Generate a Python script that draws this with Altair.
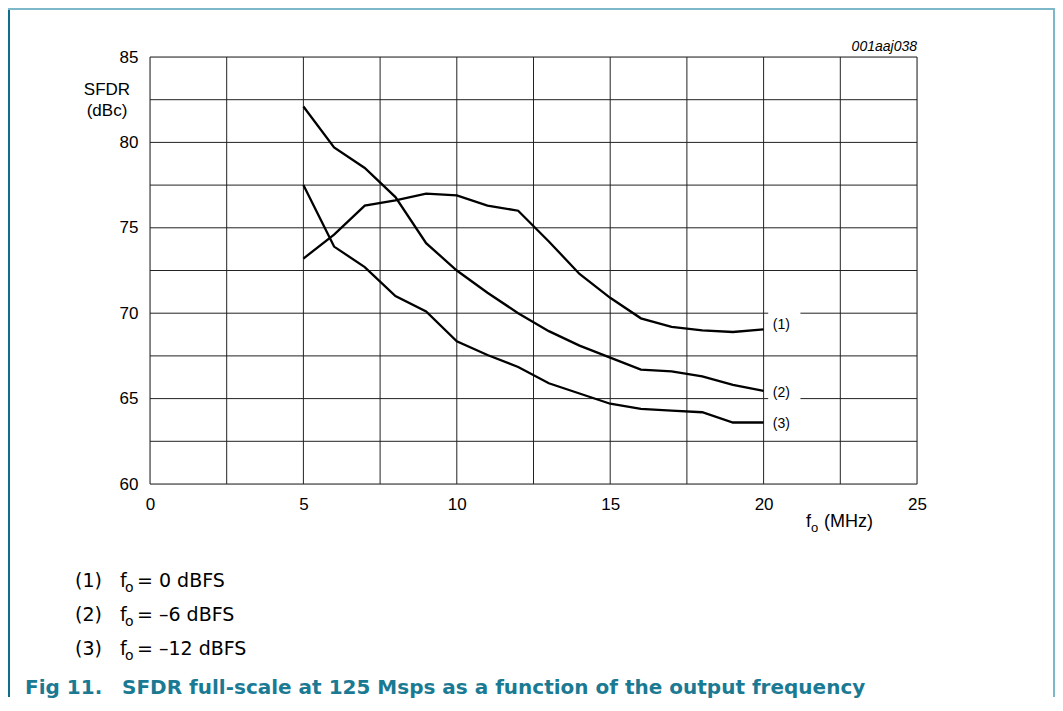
import altair as alt
import pandas as pd

freq = [5, 6, 7, 8, 9, 10, 11, 12, 13, 14, 15, 16, 17, 18, 19, 20]
sfdr_0dbfs = [73.2, 74.6, 76.3, 76.6, 77.0, 76.9, 76.3, 76.0, 74.2, 72.3, 70.9, 69.7, 69.2, 69.0, 68.9, 69.05]
sfdr_m6dbfs = [82.1, 79.7, 78.5, 76.8, 74.1, 72.5, 71.2, 70.0, 68.95, 68.1, 67.4, 66.7, 66.6, 66.3, 65.8, 65.45]
sfdr_m12dbfs = [77.5, 73.9, 72.7, 71.0, 70.1, 68.35, 67.55, 66.85, 65.9, 65.3, 64.7, 64.4, 64.3, 64.2, 63.6, 63.6]
series_names = ["(1)", "(2)", "(3)"]
note_texts = ["= 0 dBFS", "= \u20136 dBFS", "= \u201312 dBFS"]

x_ticks = [0, 5, 10, 15, 20, 25]
y_ticks = [60, 65, 70, 75, 80, 85]
x_grid = [0, 2.5, 5, 7.5, 10, 12.5, 15, 17.5, 20, 22.5, 25]
y_grid = [60, 62.5, 65, 67.5, 70, 72.5, 75, 77.5, 80, 82.5, 85]

label_x = [20.3, 20.3, 20.3]
label_y = [69.3, 65.3, 63.5]
gap_y = [70, 65]

FONT = "Liberation Sans"
NOTE_FONT = "DejaVu Sans"
TEAL = "#1b7a93"

rows = []
for name, vals in zip(series_names, [sfdr_0dbfs, sfdr_m6dbfs, sfdr_m12dbfs]):
    for f, v in zip(freq, vals):
        rows.append({"series": name, "f": f, "v": v})
df = pd.DataFrame(rows)

xs = alt.Scale(domain=[0, 25], nice=False, zero=False)
ys = alt.Scale(domain=[60, 85], nice=False, zero=False)

xgrid = alt.Chart(pd.DataFrame({"x": x_grid})).mark_rule(color="#222", strokeWidth=1).encode(
    x=alt.X("x:Q", scale=xs, axis=alt.Axis(values=x_ticks, title=None, grid=False, ticks=False, domain=False,
                                           labelFont=FONT, labelFontSize=17, labelColor="#000", labelPadding=12,
                                           labelFlush=False, format="d")))
ygrid = alt.Chart(pd.DataFrame({"y": y_grid})).mark_rule(color="#222", strokeWidth=1).encode(
    y=alt.Y("y:Q", scale=ys, axis=alt.Axis(values=y_ticks, title=None, grid=False, ticks=False, domain=False,
                                           labelFont=FONT, labelFontSize=17, labelColor="#000", labelPadding=12,
                                           labelFlush=False, format="d")))

gaps = alt.Chart(pd.DataFrame({"y": gap_y, "x1": [20.15] * 2, "x2": [21.2] * 2})).mark_rule(
    color="white", strokeWidth=4).encode(
    y=alt.Y("y:Q", scale=ys), x=alt.X("x1:Q", scale=xs), x2="x2:Q")

lines = alt.Chart(df).mark_line(color="black", strokeWidth=2.3).encode(
    x=alt.X("f:Q", scale=xs), y=alt.Y("v:Q", scale=ys), detail="series:N")

labels = alt.Chart(pd.DataFrame({"x": label_x, "y": label_y, "t": series_names})).mark_text(
    align="left", baseline="middle", font=FONT, fontSize=14, color="#000").encode(
    x=alt.X("x:Q", scale=xs), y=alt.Y("y:Q", scale=ys), text="t:N")


def txt(text, x, y, size=17, align="left", baseline="alphabetic", color="#000", weight="normal",
        style="normal", font=FONT):
    return alt.Chart(pd.DataFrame({"t": [text]})).mark_text(
        align=align, baseline=baseline, font=font, fontSize=size, color=color,
        fontWeight=weight, fontStyle=style).encode(
        x=alt.value(x - 150), y=alt.value(y - 57), text="t:N")


annots = [
    txt("SFDR", 107, 95, align="center"),
    txt("(dBc)", 107, 116, align="center"),
    txt("001aaj038", 917, 51, size=14, align="right", style="italic"),
    txt("f", 806, 527, size=18),
    txt("o", 811, 532, size=13),
    txt("(MHz)", 824, 527, size=18),
]

note_base = [587, 621, 655]
for name, note, yb in zip(series_names, note_texts, note_base):
    annots += [
        txt(name, 75, yb, size=19, font=NOTE_FONT),
        txt("f", 120, yb, size=19, font=NOTE_FONT),
        txt("o", 125, yb + 5, size=14, font=NOTE_FONT),
        txt(note, 137, yb, size=19, font=NOTE_FONT),
    ]

annots += [
    txt("Fig 11.", 25, 694, size=20, color=TEAL, weight="bold", font="DejaVu Sans"),
    txt("SFDR full-scale at 125 Msps as a function of the output frequency", 122, 694, size=20, color=TEAL,
        weight="bold", font="DejaVu Sans"),
]

frame_left = alt.Chart(pd.DataFrame({"a": [0]})).mark_rule(color="#0f6f8a", strokeWidth=2).encode(
    x=alt.value(-141), y=alt.value(-49), y2=alt.value(640))
frame_top = alt.Chart(pd.DataFrame({"a": [0]})).mark_rule(color="#7db8c8", strokeWidth=2).encode(
    x=alt.value(-142), x2=alt.value(905), y=alt.value(-48))
frame_right = alt.Chart(pd.DataFrame({"a": [0]})).mark_rule(color="#7db8c8", strokeWidth=2).encode(
    x=alt.value(904), y=alt.value(-49), y2=alt.value(640))

chart = alt.layer(xgrid, ygrid, gaps, lines, labels, frame_left, frame_top, frame_right, *annots).properties(
    width=767, height=427,
    autosize=alt.AutoSizeParams(type="none"),
    padding={"left": 142, "top": 49, "right": 138, "bottom": 214},
).configure_view(stroke=None).configure(background="white")

chart.save("out.html", embed_options={"renderer": "svg", "actions": False})
